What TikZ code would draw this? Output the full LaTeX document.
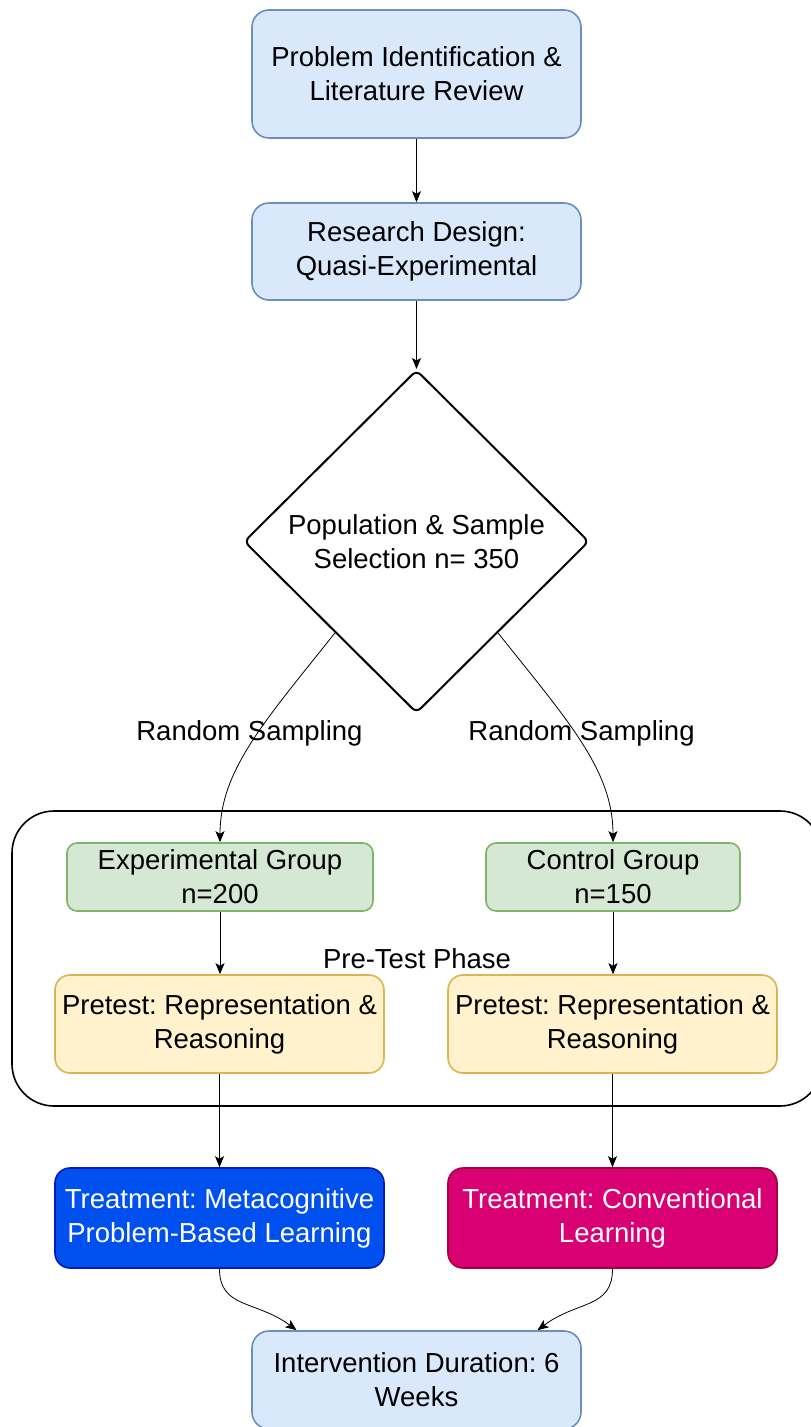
\documentclass[tikz,border=0pt]{standalone}
\usepackage{fontspec}
\setmainfont{Liberation Sans}
\usetikzlibrary{shapes.geometric,arrows.meta,calc}
\definecolor{lblueF}{HTML}{DAE8FC}
\definecolor{lblueD}{HTML}{6C8EBF}
\definecolor{lgreenF}{HTML}{D5E8D4}
\definecolor{lgreenD}{HTML}{82B366}
\definecolor{lyelF}{HTML}{FFF2CC}
\definecolor{lyelD}{HTML}{D6B656}
\definecolor{dblueF}{HTML}{0050EF}
\definecolor{dblueD}{HTML}{001DBC}
\definecolor{magF}{HTML}{D80073}
\definecolor{magD}{HTML}{A50040}
\frenchspacing
\begin{document}
\begin{tikzpicture}[x=1pt,y=-1pt,
  font=\fontsize{27.5}{34}\selectfont,
  box/.style={draw, line width=1.6pt, rounded corners=#1, align=center, inner sep=0pt},
  stage/.style={box=17, fill=lblueF, draw=lblueD, minimum width=329pt},
  grp/.style={box=10, fill=lgreenF, draw=lgreenD, minimum height=68pt},
  pre/.style={box=15, fill=lyelF, draw=lyelD, minimum width=329pt, minimum height=98pt},
  conn/.style={line width=0.8pt, -{Stealth[length=11pt,width=9pt,inset=2.5pt]}},
  lbl/.style={font=\fontsize{27.5}{34}\selectfont}
]
\useasboundingbox (0,0) rectangle (811,1427);
\fill[white] (0,0) rectangle (811,1427);

% phase container (drawn first so it sits behind the boxes)
\node[draw, line width=1.6pt, rounded corners=42pt, minimum width=810pt,
      minimum height=295pt, inner sep=0pt] (phase) at (417,958.5) {Pre-Test Phase};

% main stages
\node[stage, minimum height=128pt] (prob) at (416.5,74) {Problem Identification \&\\Literature Review};
\node[stage, minimum height=97pt] (design) at (416.5,251.5) {Research Design:\\Quasi-Experimental};
\node[draw, line width=2pt, diamond, rounded corners=6pt, fill=white, inner sep=0pt,
      minimum width=345pt, minimum height=343pt, align=center] (sel) at (416.5,541.5)
      {Population \& Sample\\Selection n= 350};

% groups
\node[grp, minimum width=306pt] (exp) at (220,877) {Experimental Group\\n=200};
\node[grp, minimum width=254pt] (ctl) at (613,877) {Control Group\\n=150};

% pretests
\node[pre] (preL) at (219.5,1024) {Pretest: Representation \&\\Reasoning};
\node[pre] (preR) at (612.5,1024) {Pretest: Representation \&\\Reasoning};

% treatments
\node[box=15, fill=dblueF, draw=dblueD, text=white, minimum width=329pt, minimum height=100pt]
      (trL) at (219.5,1218) {Treatment: Metacognitive\\Problem-Based Learning};
\node[box=15, fill=magF, draw=magD, text=white, minimum width=329pt, minimum height=100pt]
      (trR) at (612.5,1218) {Treatment: Conventional\\Learning};

% final stage
\node[stage, minimum height=98pt] (int) at (416.5,1380) {Intervention Duration: 6\\Weeks};

% connector end points on the diamond's lower sides and the last box's top
\coordinate (selL) at ($(sel.west)!0.53!(sel.south)$);
\coordinate (selR) at ($(sel.east)!0.53!(sel.south)$);
\coordinate (intL) at ($(int.north west)!0.137!(int.north east)$);
\coordinate (intR) at ($(int.north west)!0.866!(int.north east)$);

% connectors
\draw[conn] (prob.south) -- (design.north);
\draw[conn] (design.south) -- (sel.north);
\draw[conn] (selL) .. controls +(-70,88) and +(0,-72) .. (exp.north)
      node[lbl, pos=0.45, xshift=-8pt] {Random Sampling};
\draw[conn] (selR) .. controls +(70,88) and +(0,-72) .. (ctl.north)
      node[lbl, pos=0.45, xshift=6pt] {Random Sampling};
\draw[conn] (exp.south) -- (exp.south |- preL.north);
\draw[conn] (ctl.south) -- (ctl.south |- preR.north);
\draw[conn] (preL.south) -- (trL.north);
\draw[conn] (preR.south) -- (trR.north);
\draw[conn] (trL.south) .. controls +(0,40) and +(-40,-30) .. (intL);
\draw[conn] (trR.south) .. controls +(0,40) and +(40,-30) .. (intR);
\end{tikzpicture}
\end{document}
